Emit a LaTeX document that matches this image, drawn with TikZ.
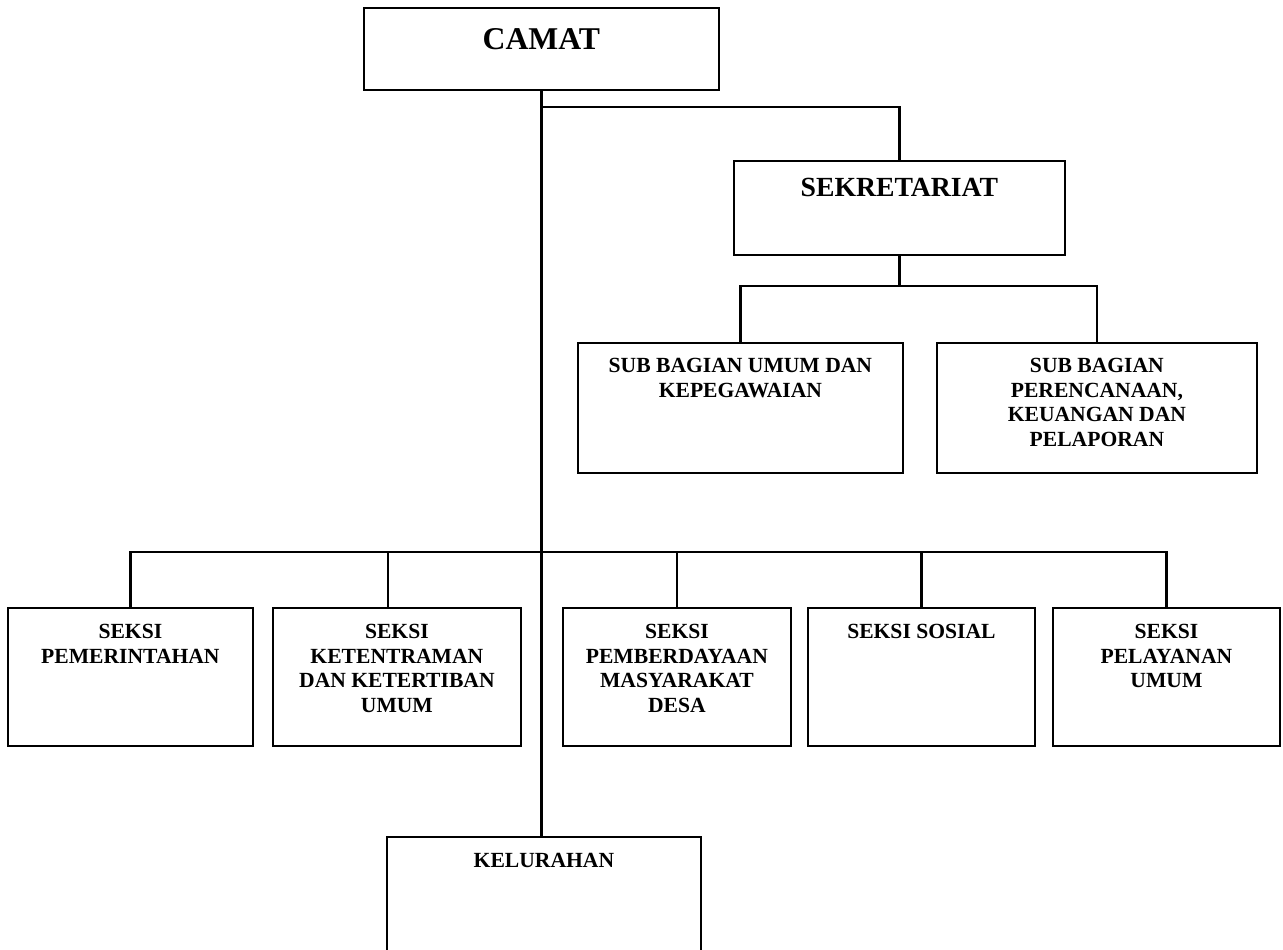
\documentclass[tikz,border=0pt]{standalone}
\usepackage{fontspec}
\setmainfont{Liberation Serif}
\tikzset{
  box/.style={draw,line width=1.8pt,anchor=north west,inner sep=0pt},
  lbl/.style={anchor=north,inner sep=0pt,align=center,font=\fontsize{21.6}{24.7}\selectfont\bfseries},
  garis/.style={line width=2.2pt},
}
\begin{document}
\begin{tikzpicture}[x=1pt,y=-1pt]
\path[use as bounding box,clip] (0,0) rectangle (1283,950);

\node[box,minimum width=355,minimum height=82,label={[lbl,yshift=-21pt,font=\fontsize{31.7}{34}\selectfont\bfseries]north:CAMAT}] (camat) at (363,7) {};
\node[box,minimum width=331,minimum height=94,label={[lbl,yshift=-18pt,font=\fontsize{27.7}{30}\selectfont\bfseries]north:SEKRETARIAT}] (sekr) at (733,160) {};
\node[box,minimum width=325,minimum height=130,label={[lbl,yshift=-16pt]north:{SUB BAGIAN UMUM DAN\\KEPEGAWAIAN}}] (sub1) at (577,342) {};
\node[box,minimum width=320,minimum height=130,label={[lbl,yshift=-16pt]north:{SUB BAGIAN\\PERENCANAAN,\\KEUANGAN DAN\\PELAPORAN}}] (sub2) at (936,342) {};
\node[box,minimum width=245,minimum height=138,label={[lbl,yshift=-17pt]north:{SEKSI\\PEMERINTAHAN}}] (s1) at (7,607) {};
\node[box,minimum width=248,minimum height=138,label={[lbl,yshift=-17pt]north:{SEKSI\\KETENTRAMAN\\DAN KETERTIBAN\\UMUM}}] (s2) at (272,607) {};
\node[box,minimum width=228,minimum height=138,label={[lbl,yshift=-17pt]north:{SEKSI\\PEMBERDAYAAN\\MASYARAKAT\\DESA}}] (s3) at (562,607) {};
\node[box,minimum width=227,minimum height=138,label={[lbl,yshift=-17pt]north:{SEKSI SOSIAL}}] (s4) at (807,607) {};
\node[box,minimum width=227,minimum height=138,label={[lbl,yshift=-17pt]north:{SEKSI\\PELAYANAN\\UMUM}}] (s5) at (1052,607) {};
\node[box,minimum width=314,minimum height=140,label={[lbl,yshift=-17pt]north:KELURAHAN}] (kel) at (386,836) {};

% garis komando
\coordinate (top) at (542,107);
\coordinate (sbus) at (917,286);
\coordinate (bus) at (542,552);
\draw[garis] (camat.south) -- (camat.south |- kel.north);
\draw[garis] (top) -| (sekr.north);
\draw[garis] (sekr.south) -- (sekr.south |- sbus);
\draw[garis] (sub1.north) |- (sbus) -| (sub2.north);
\draw[garis] (s1.north) |- (bus) -| (s5.north);
\draw[garis] ([xshift=-9pt]s2.north) -- ([xshift=-9pt]s2.north |- bus);
\foreach \n in {s3,s4}
  \draw[garis] (\n.north) -- (\n.north |- bus);
\end{tikzpicture}
\end{document}
